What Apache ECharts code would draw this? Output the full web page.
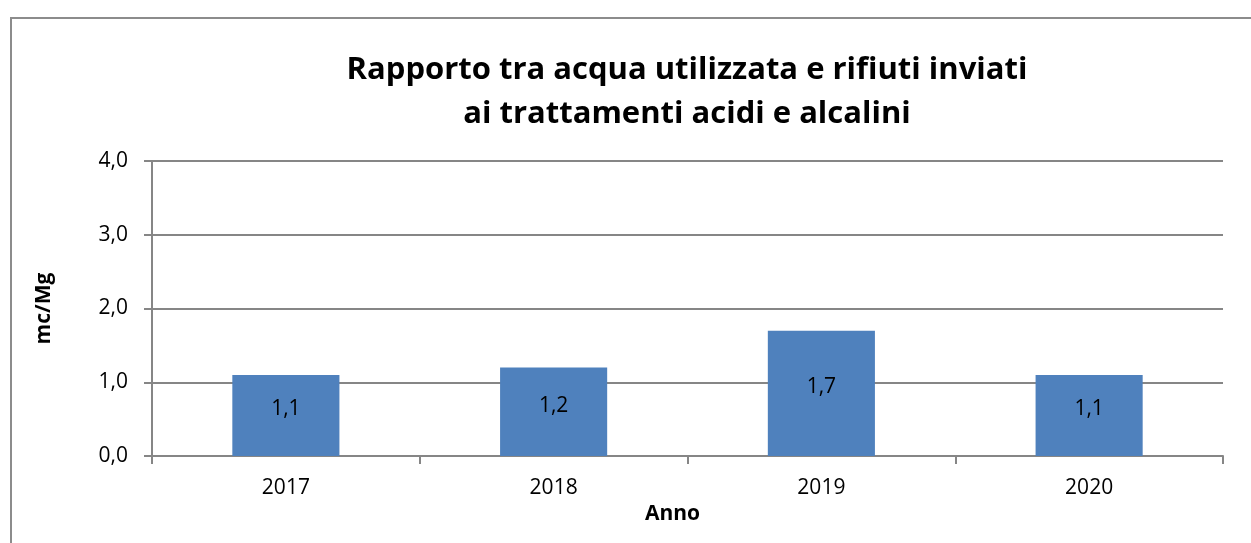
<!doctype html>
<html lang="it">
  <head>
    <meta charset="utf-8">
    <script src="https://cdn.jsdelivr.net/npm/echarts@6/dist/echarts.min.js"></script>
    <title>Rapporto acqua / rifiuti</title>
    <style>
      html, body { margin: 0; padding: 0; background: #fff; overflow: hidden; }
      #frame { position: absolute; left: 10px; top: 17px; width: 1280px; height: 560px; border: 2px solid #8c8c8c; box-sizing: border-box; }
      #container { position: absolute; left: 0; top: 0; width: 1251px; height: 543px; }
    </style>
  </head>
  <body>
    <div id="frame"></div>
    <div id="container"></div>
    <script type="text/javascript">
      // dati
      var anni = ['2017', '2018', '2019', '2020'];
      var rapporto = [1.1, 1.2, 1.7, 1.1];
      var yTicks = [0, 1, 2, 3, 4];

      function virgola(v) { return Number(v).toFixed(1).replace('.', ','); }

      var font = '"Open Sans", "Liberation Sans", sans-serif';
      var myChart = echarts.init(document.getElementById('container'));

      var option = {
        animation: false,
        textStyle: { fontFamily: font },
        title: {
          text: 'Rapporto tra acqua utilizzata e rifiuti inviati\nai trattamenti acidi e alcalini',
          left: 682, top: 43, textAlign: 'center',
          textStyle: { fontFamily: font, fontSize: 31, fontWeight: 'bold', color: '#000', lineHeight: 44 }
        },
        grid: { left: 152, right: 28, top: 161, bottom: 87 },
        xAxis: {
          type: 'category',
          data: anni,
          name: 'Anno',
          nameLocation: 'middle',
          nameGap: 33,
          nameTextStyle: { fontFamily: font, fontSize: 21, fontWeight: 'bold', color: '#000', padding: [0, 30, 0, 0] },
          axisLine: { lineStyle: { color: '#868686', width: 2 } },
          axisTick: { show: true, length: 8, lineStyle: { color: '#868686', width: 2 } },
          axisLabel: { margin: 22, fontSize: 21, color: '#000', fontFamily: font }
        },
        yAxis: {
          type: 'value',
          min: yTicks[0], max: yTicks[yTicks.length - 1], interval: 1,
          name: 'mc/Mg',
          nameLocation: 'middle',
          nameGap: 97,
          nameRotate: 90,
          nameTextStyle: { fontFamily: font, fontSize: 21, fontWeight: 'bold', color: '#000' },
          axisLine: { show: true, lineStyle: { color: '#868686', width: 2 } },
          axisTick: { show: true, length: 8, lineStyle: { color: '#868686', width: 2 } },
          splitLine: { lineStyle: { color: '#868686', width: 2 } },
          axisLabel: { margin: 24, fontSize: 21, color: '#000', fontFamily: font, formatter: virgola }
        },
        series: [{
          type: 'bar',
          data: rapporto,
          barWidth: '40%',
          itemStyle: { color: '#4F81BD' },
          label: {
            show: true, position: 'inside', offset: [0, -6],
            fontSize: 21, color: '#000', fontFamily: font,
            formatter: function (p) { return virgola(p.value); }
          }
        }]
      };
      myChart.setOption(option);
    </script>
  </body>
</html>
